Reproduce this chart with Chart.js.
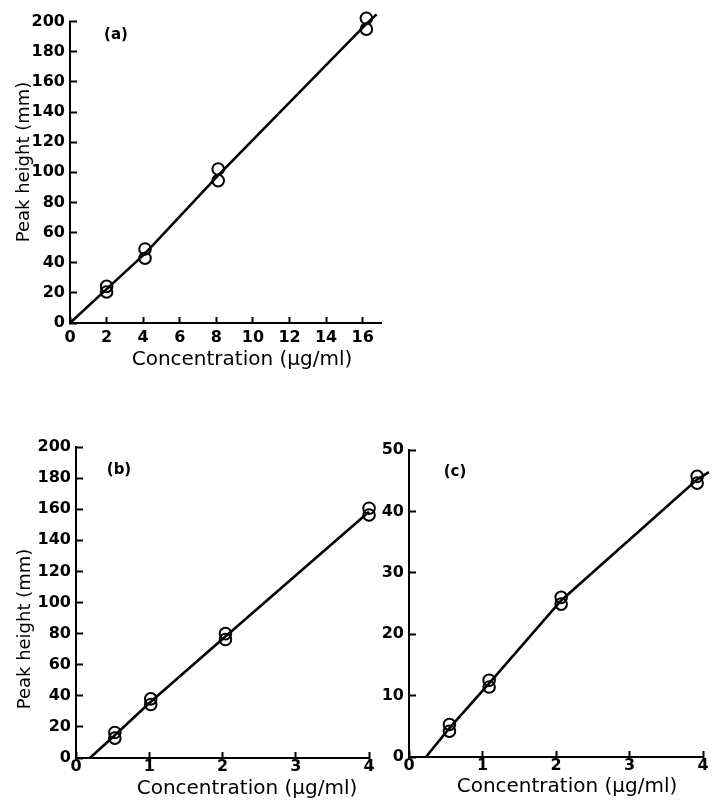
<!DOCTYPE html>
<html><head><meta charset="utf-8">
<script src="https://cdn.jsdelivr.net/npm/chart.js@4.4.1/dist/chart.umd.min.js"></script>
<style>
html,body{margin:0;padding:0;background:#fff;}
#wrap{position:relative;width:714px;height:803px;overflow:hidden;background:#fff;}
canvas{position:absolute;}
</style></head><body>
<div id="wrap">
<canvas id="ca" style="left:0px;top:0px;width:400px;height:375px" width="400" height="375"></canvas>
<canvas id="cb" style="left:0px;top:400px;width:380px;height:403px" width="380" height="403"></canvas>
<canvas id="cc" style="left:370px;top:400px;width:344px;height:403px" width="344" height="403"></canvas>
</div>
<script>
// ---- text ----
const yTitle = "Peak height (mm)";
const xTitle = "Concentration (\u03bcg/ml)";
const panelLabels = ["(a)", "(b)", "(c)"];

// ---- tick labels ----
const xTicksA = [0, 2, 4, 6, 8, 10, 12, 14, 16];
const yTicksA = [0, 20, 40, 60, 80, 100, 120, 140, 160, 180, 200];
const xTicksB = [0, 1, 2, 3, 4];
const yTicksB = [0, 20, 40, 60, 80, 100, 120, 140, 160, 180, 200];
const xTicksC = [0, 1, 2, 3, 4];
const yTicksC = [0, 10, 20, 30, 40, 50];

// ---- panel (a) data ----
const concA   = [2, 2, 4.1, 4.1, 8.1, 8.1, 16.2, 16.2];
const heightA = [24.3, 20.6, 49.1, 43.0, 102.2, 94.5, 202.2, 195.0];
const fitConcA   = [0, 2, 4.1, 8.1, 16.2, 16.76];
const fitHeightA = [0, 22.5, 46, 98, 198.5, 204.8];

// ---- panel (b) data ----
const concB   = [0.53, 0.53, 1.02, 1.02, 2.04, 2.04, 4.0, 4.0];
const heightB = [16.4, 12.8, 38.0, 34.4, 80.0, 76.2, 160.6, 156.3];
const fitConcB   = [0.19, 0.53, 1.02, 2.04, 4.0, 4.07];
const fitHeightB = [0, 14.6, 36.2, 78.1, 158.4, 163];

// ---- panel (c) data ----
const concC   = [0.55, 0.55, 1.09, 1.09, 2.07, 2.07, 3.92, 3.92];
const heightC = [5.3, 4.2, 12.5, 11.4, 26.0, 24.9, 45.7, 44.6];
const fitConcC   = [0.23, 0.55, 1.09, 2.07, 3.92, 4.08];
const fitHeightC = [0, 4.7, 12.0, 25.5, 45.2, 46.4];

const FONT = "'DejaVu Sans', sans-serif";

const textPlugin = {
  id: 'panelText',
  afterDraw(chart, args, opts) {
    const ctx = chart.ctx;
    (opts.items || []).forEach(it => {
      ctx.save();
      ctx.font = it.font;
      ctx.fillStyle = '#000';
      ctx.textAlign = 'center';
      ctx.textBaseline = it.baseline || 'alphabetic';
      ctx.translate(it.x, it.y);
      if (it.rot) ctx.rotate(it.rot);
      ctx.fillText(it.text, 0, 0);
      ctx.restore();
    });
  }
};

function pts(xs, ys) { return xs.map((x, i) => ({ x: x, y: ys[i] })); }

function makePanel(id, g, xs, ys, fxs, fys, xTicks, yTicks, xMax, yMax, xPad, texts) {
  new Chart(document.getElementById(id), {
    type: 'scatter',
    data: {
      datasets: [
        { data: pts(fxs, fys), showLine: true, borderColor: '#000', borderWidth: 2.6,
          pointRadius: 0, pointHoverRadius: 0, fill: false, clip: false, order: 2 },
        { data: pts(xs, ys), showLine: false, pointStyle: 'circle', pointRadius: 5.8,
          pointBorderWidth: 2, pointBorderColor: '#000', pointBackgroundColor: 'rgba(0,0,0,0)',
          clip: false, order: 1 }
      ]
    },
    options: {
      responsive: false, animation: false, devicePixelRatio: 1,
      layout: { padding: { top: g.top, right: g.w - g.right, left: 0, bottom: 0 } },
      plugins: { legend: { display: false }, tooltip: { enabled: false },
                 panelText: { items: texts } },
      scales: {
        x: {
          type: 'linear', min: 0, max: xMax,
          afterFit: s => { s.height = g.h - g.bottom; },
          afterBuildTicks: s => { s.ticks = xTicks.map(v => ({ value: v })); },
          grid: { drawOnChartArea: false, drawTicks: true, tickLength: -6, tickWidth: 2, tickColor: '#000' },
          border: { display: true, color: '#000', width: 2 },
          ticks: { color: '#000', font: { family: FONT, size: 16, weight: 'bold' }, padding: xPad,
                   maxRotation: 0, autoSkip: false }
        },
        y: {
          type: 'linear', min: 0, max: yMax,
          afterFit: s => { s.width = g.left; },
          afterBuildTicks: s => { s.ticks = yTicks.map(v => ({ value: v })); },
          grid: { drawOnChartArea: false, drawTicks: true, tickLength: -7, tickWidth: 2, tickColor: '#000' },
          border: { display: true, color: '#000', width: 2 },
          ticks: { color: '#000', font: { family: FONT, size: 16, weight: 'bold' }, padding: 12, autoSkip: false }
        }
      }
    },
    plugins: [textPlugin]
  });
}

const fLab = "bold 15px " + FONT;
const fY = "18px " + FONT;
const fX = "20px " + FONT;

makePanel('ca', { w: 400, h: 375, left: 70, top: 19, right: 381, bottom: 323 },
  concA, heightA, fitConcA, fitHeightA, xTicksA, yTicksA, 17, 200, 10.9, [
    { text: panelLabels[0], x: 116, y: 35, font: fLab, baseline: 'middle' },
    { text: yTitle, x: 29, y: 162, rot: -Math.PI / 2, font: fY },
    { text: xTitle, x: 242, y: 365, font: fX }
  ]);

makePanel('cb', { w: 380, h: 403, left: 76, top: 47, right: 372, bottom: 358 },
  concB, heightB, fitConcB, fitHeightB, xTicksB, yTicksB, 4, 200, 5.4, [
    { text: panelLabels[1], x: 119, y: 70, font: fLab, baseline: 'middle' },
    { text: yTitle, x: 30, y: 229, rot: -Math.PI / 2, font: fY },
    { text: xTitle, x: 247, y: 394, font: fX }
  ]);

makePanel('cc', { w: 344, h: 403, left: 39, top: 50, right: 338, bottom: 357 },
  concC, heightC, fitConcC, fitHeightC, xTicksC, yTicksC, 4, 50, 5.4, [
    { text: panelLabels[2], x: 85, y: 72, font: fLab, baseline: 'middle' },
    { text: xTitle, x: 197, y: 392, font: fX }
  ]);
</script>
</body></html>
